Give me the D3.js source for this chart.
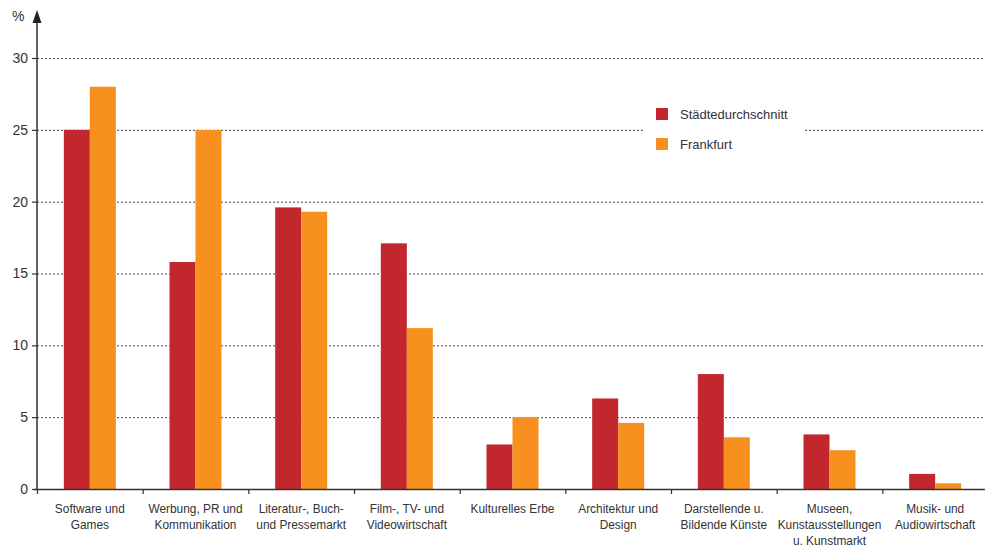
<!DOCTYPE html>
<html><head><meta charset="utf-8">
<script src="https://cdn.jsdelivr.net/npm/d3@7"></script>
<style>body{margin:0;background:#fff}svg{display:block}text{font-family:"Liberation Sans",Arial,sans-serif;fill:#333}</style>
</head><body><svg id="c" width="985" height="550"></svg>
<script>
const categories = [
  ["Software und","Games"],
  ["Werbung, PR und","Kommunikation"],
  ["Literatur-, Buch-","und Pressemarkt"],
  ["Film-, TV- und","Videowirtschaft"],
  ["Kulturelles Erbe"],
  ["Architektur und","Design"],
  ["Darstellende u.","Bildende Künste"],
  ["Museen,","Kunstausstellungen","u. Kunstmarkt"]
  ,["Musik- und","Audiowirtschaft"]
];
const seriesNames = ["Städtedurchschnitt","Frankfurt"];
const staedte = [25.0, 15.8, 19.6, 17.1, 3.1, 6.3, 8.0, 3.8, 1.05];
const frankfurt = [28.0, 25.0, 19.3, 11.2, 5.0, 4.6, 3.6, 2.7, 0.4];
const yTicks = [0,5,10,15,20,25,30];
const colors = ["#C1272D","#F7901E"];

const svg = d3.select("#c");
const x0 = 37, x1 = 988, yTop = 58, yBot = 489;
const x = d3.scaleBand().domain(d3.range(categories.length)).range([x0,x1]).paddingInner(0).paddingOuter(0);
const y = d3.scaleLinear().domain([0,30]).range([yBot,yTop]);
const bw = 26;
const xs = d3.scaleBand().domain([0,1]).range([0,bw*2]);

// grid
svg.append("g").selectAll("line").data(yTicks.filter(d=>d>0)).join("line")
  .attr("x1",x0).attr("x2",985).attr("y1",d=>y(d)+0.5).attr("y2",d=>y(d)+0.5)
  .attr("stroke","#444").attr("stroke-width",1).attr("stroke-dasharray","2,2");

// legend background
svg.append("rect").attr("x",643).attr("y",96).attr("width",160).attr("height",68).attr("fill","#fff");
const lg = svg.append("g");
seriesNames.forEach((n,i)=>{
  lg.append("rect").attr("x",656).attr("y",108+i*30).attr("width",12).attr("height",12).attr("fill",colors[i]);
  lg.append("text").attr("x",680).attr("y",119+i*30).attr("font-size",13).text(n);
});

// bars
const data = [staedte, frankfurt];
data.forEach((vals,si)=>{
  svg.append("g").selectAll("rect").data(vals).join("rect")
    .attr("x",(d,i)=>x(i)+x.bandwidth()/2-bw+xs(si))
    .attr("width",bw)
    .attr("y",d=>y(d))
    .attr("height",d=>yBot-y(d))
    .attr("fill",colors[si]);
});

// y axis
const ya = svg.append("g").attr("transform",`translate(${x0},0)`)
  .call(d3.axisLeft(y).tickValues(yTicks).tickSize(5).tickPadding(4).tickFormat(d3.format("d")));
ya.select(".domain").remove();
ya.selectAll("line").attr("stroke","#333").attr("stroke-width",1.2);
ya.selectAll("text").attr("font-size",14).attr("font-family","Liberation Sans, Arial, sans-serif").attr("fill","#333");
svg.append("line").attr("x1",x0).attr("x2",x0).attr("y1",yBot).attr("y2",20).attr("stroke","#333").attr("stroke-width",1.5);
svg.append("path").attr("d",`M${x0},10 L${x0-4.5},23 L${x0+4.5},23 Z`).attr("fill","#222");
svg.append("text").attr("x",12).attr("y",21).attr("font-size",14).text("%");

// x axis
svg.append("line").attr("x1",x0-3).attr("x2",985).attr("y1",yBot+0.5).attr("y2",yBot+0.5).attr("stroke","#333").attr("stroke-width",1.5);
svg.append("g").selectAll("line").data(d3.range(categories.length)).join("line")
  .attr("x1",d=>x(d)+0.5).attr("x2",d=>x(d)+0.5).attr("y1",yBot).attr("y2",yBot+5)
  .attr("stroke","#333").attr("stroke-width",1.2);
const lab = svg.append("g").selectAll("text").data(categories).join("text")
  .attr("text-anchor","middle").attr("font-size",13.5)
  .attr("transform",(d,i)=>`translate(${x(i)+x.bandwidth()/2},513) scale(0.88,1)`)
  .attr("x",0).attr("y",0);
lab.selectAll("tspan").data(d=>d).join("tspan")
  .attr("x",0)
  .attr("dy",(d,i)=>i===0?0:16).text(d=>d);
</script></body></html>
